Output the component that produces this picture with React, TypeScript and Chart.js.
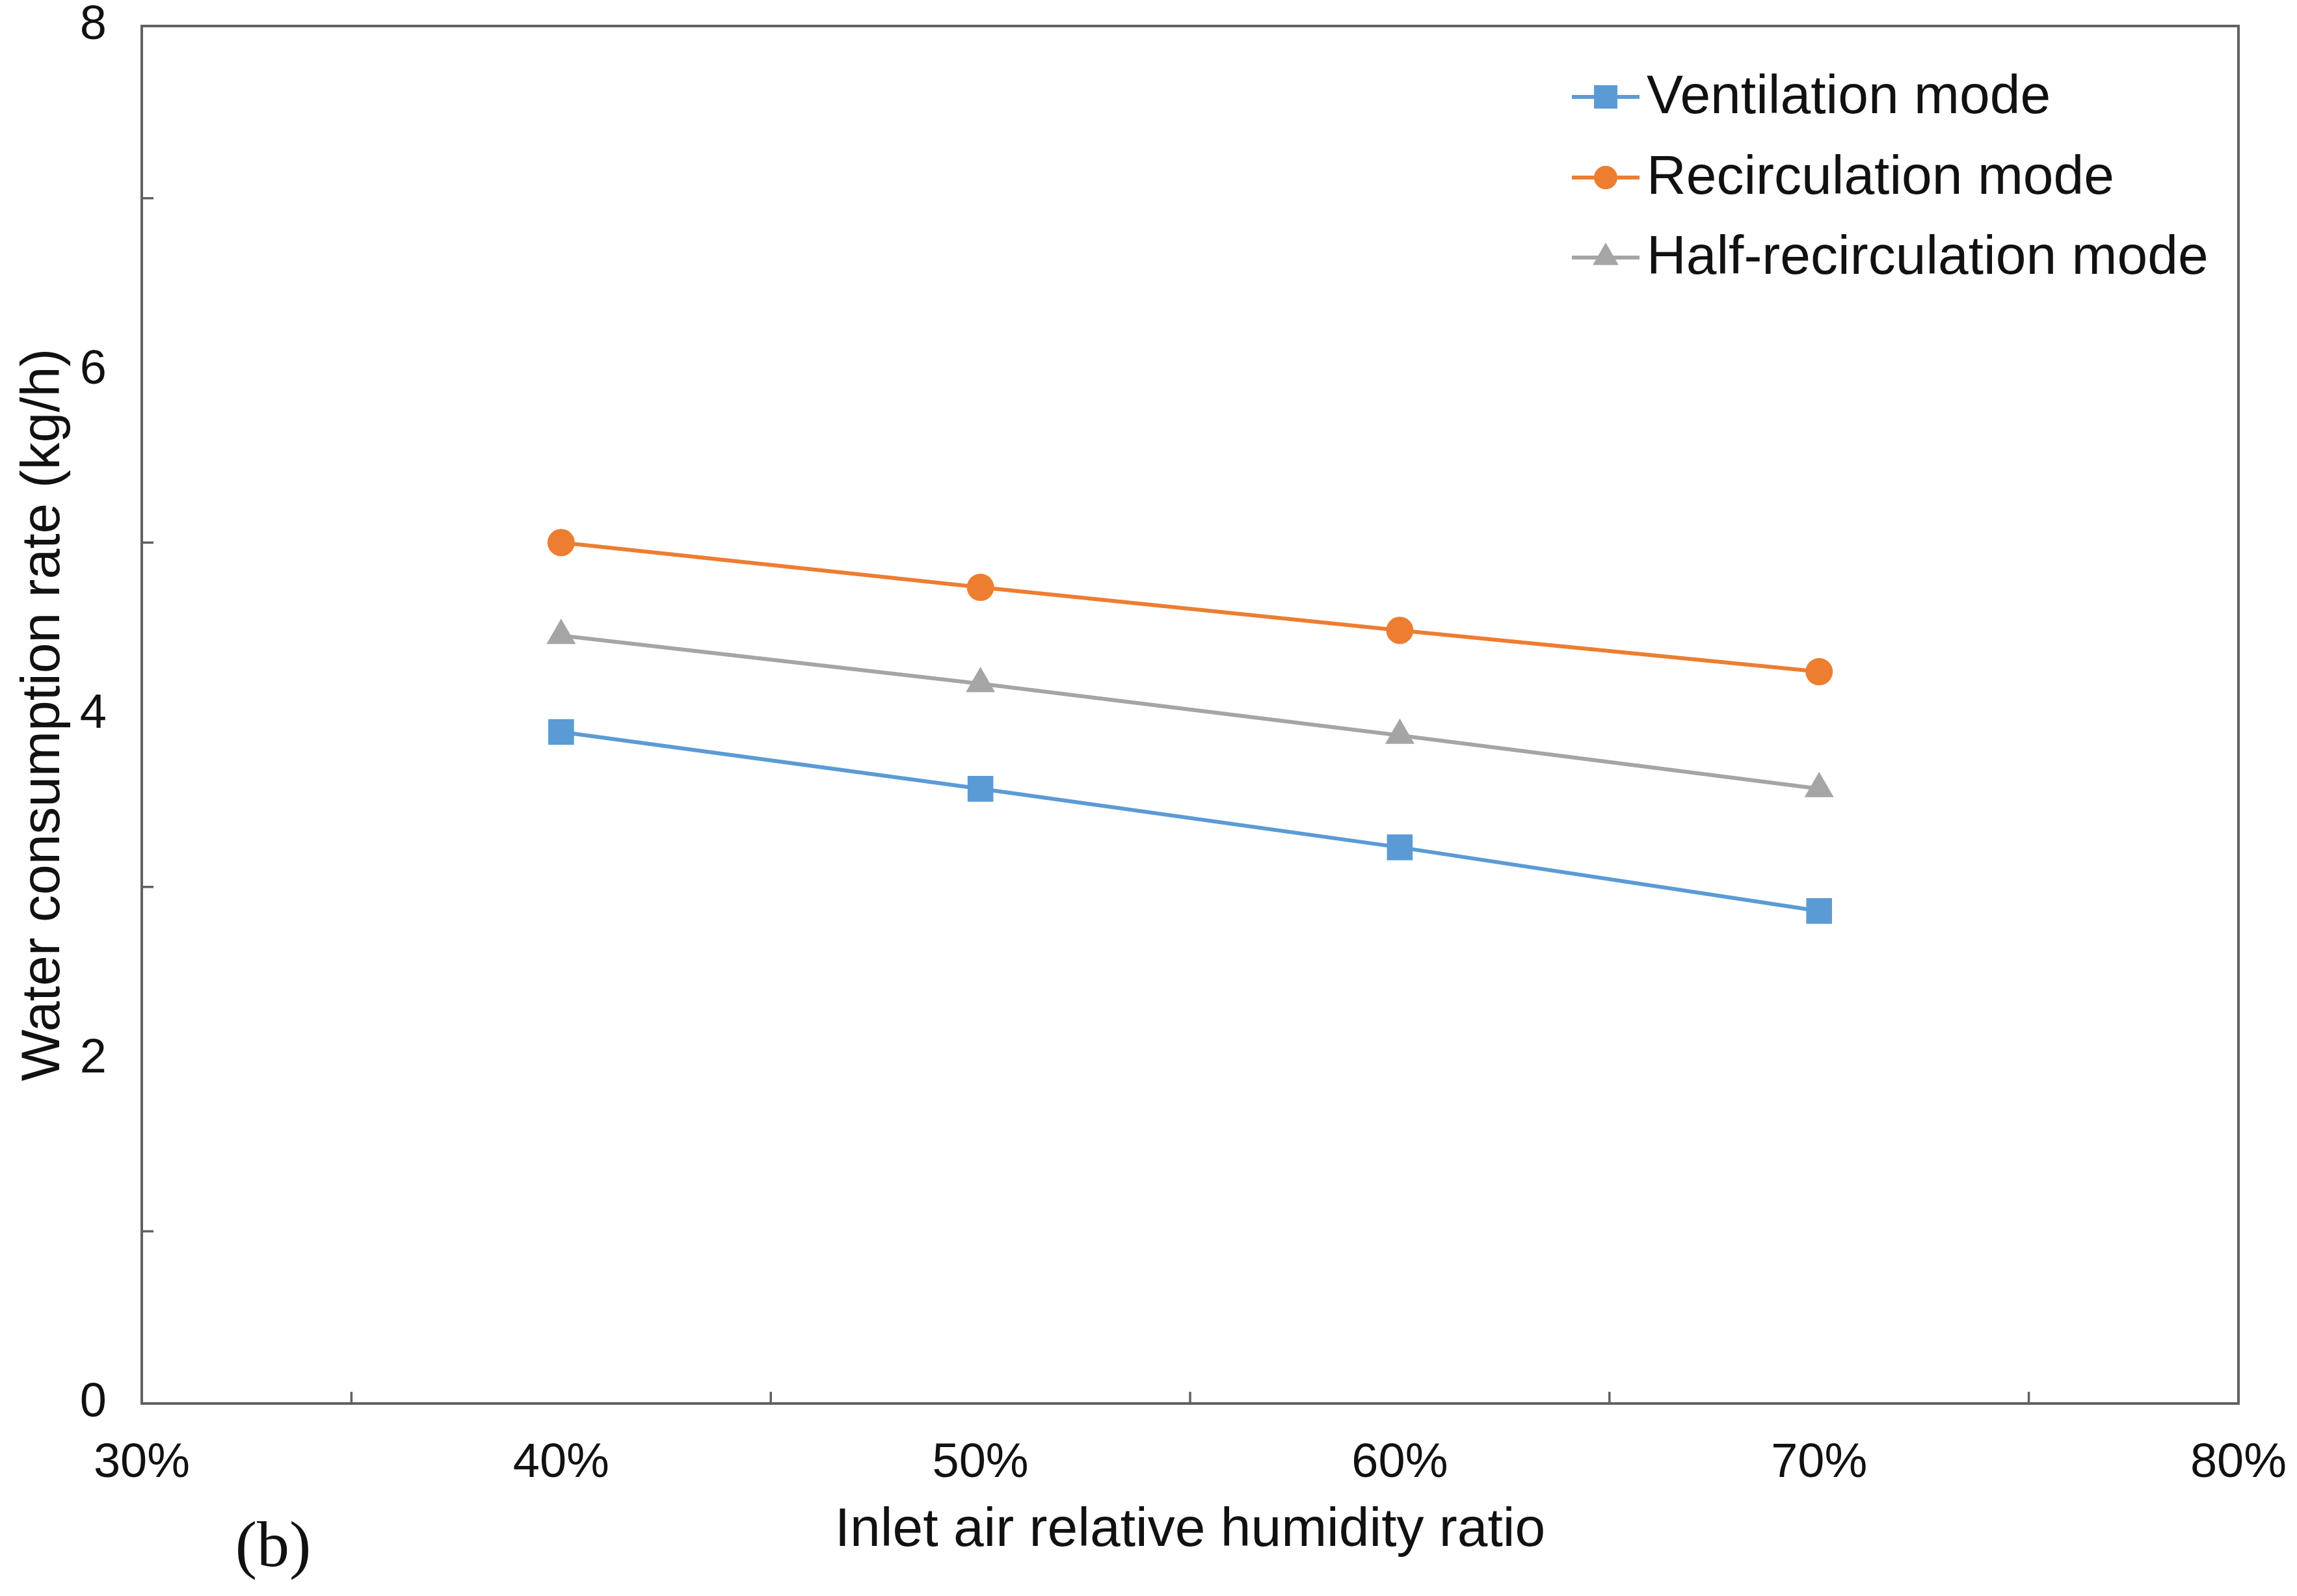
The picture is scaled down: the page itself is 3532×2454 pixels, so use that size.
import React, { useEffect, useRef } from "react";
import { Chart, registerables } from "chart.js";

Chart.register(...registerables);

// ---------- data ----------
const humidity = [40, 50, 60, 70];
const ventilation = [3.9, 3.57, 3.23, 2.86];
const recirculation = [5.0, 4.74, 4.49, 4.25];
const halfRecirculation = [4.46, 4.18, 3.88, 3.57];
const seriesNames = ["Ventilation mode", "Recirculation mode", "Half-recirculation mode"];
const xTickValues = [30, 40, 50, 60, 70, 80];
const yTickValues = [0, 2, 4, 6, 8];
const xMinorTicks = [35, 45, 55, 65, 75];
const yMinorTicks = [1, 3, 5, 7];
const xTitle = "Inlet air relative humidity ratio";
const yTitle = "Water consumption rate (kg/h)";
const panelLabel = "(b)";

// ---------- styles ----------
const W = 3532;
const H = 2454;
const COLORS = ["#5B9BD5", "#ED7D31", "#A5A5A5"];
const STYLES = ["rect", "circle", "triangle"];
const RADII = [28, 21, 26];
const AXIS_COLOR = "#616161";
const FONT = "'Liberation Sans', Arial, sans-serif";

const decorPlugin = {
  id: "decor",
  beforeDatasetsDraw(chart: any) {
    const { ctx, chartArea: a, scales } = chart;
    const xs = scales.x;
    const ys = scales.y;
    ctx.save();
    ctx.strokeStyle = AXIS_COLOR;
    ctx.lineWidth = 4;
    ctx.strokeRect(a.left, a.top, a.right - a.left, a.bottom - a.top);
    const TL = 18;
    ctx.beginPath();
    xMinorTicks.forEach((v) => {
      const px = xs.getPixelForValue(v);
      ctx.moveTo(px, a.bottom);
      ctx.lineTo(px, a.bottom - TL);
    });
    yMinorTicks.forEach((v) => {
      const py = ys.getPixelForValue(v);
      ctx.moveTo(a.left, py);
      ctx.lineTo(a.left + TL, py);
    });
    ctx.lineWidth = 3.5;
    ctx.stroke();
    ctx.restore();
  },
  afterDraw(chart: any) {
    const { ctx, chartArea: a } = chart;
    ctx.save();
    ctx.fillStyle = "#111";
    ctx.font = `84px ${FONT}`;
    ctx.textAlign = "center";
    ctx.textBaseline = "middle";
    // x title
    ctx.fillText(xTitle, (a.left + a.right) / 2, 2354);
    // y title
    ctx.save();
    ctx.translate(68, (a.top + a.bottom) / 2);
    ctx.rotate(-Math.PI / 2);
    ctx.fillText(yTitle, 0, 0);
    ctx.restore();
    // panel label
    ctx.font = `100px 'Liberation Serif', 'Times New Roman', serif`;
    ctx.fillText(panelLabel, 420, 2382);

    // legend
    const rows = [149, 273, 396];
    const lx0 = 2417;
    const lx1 = 2521;
    const mx = 2469;
    const tx = 2532;
    ctx.font = `84px ${FONT}`;
    ctx.textAlign = "left";
    ctx.textBaseline = "middle";
    chart.data.datasets.forEach((ds: any, i: number) => {
      const y = rows[i];
      ctx.strokeStyle = COLORS[i];
      ctx.lineWidth = 6;
      ctx.beginPath();
      ctx.moveTo(lx0, y);
      ctx.lineTo(lx1, y);
      ctx.stroke();
      ctx.fillStyle = COLORS[i];
      ctx.beginPath();
      if (STYLES[i] === "rect") {
        ctx.rect(mx - 18, y - 18, 36, 36);
      } else if (STYLES[i] === "circle") {
        ctx.arc(mx, y, 18, 0, Math.PI * 2);
      } else {
        const r = 23;
        ctx.moveTo(mx, y - r);
        ctx.lineTo(mx + r * 0.866, y + r * 0.5);
        ctx.lineTo(mx - r * 0.866, y + r * 0.5);
        ctx.closePath();
      }
      ctx.fill();
      ctx.fillStyle = "#111";
      ctx.fillText(ds.label, tx, y + 2);
    });
    ctx.restore();
  },
};

export default function App() {
  const ref = useRef<HTMLCanvasElement | null>(null);

  useEffect(() => {
    document.body.style.margin = "0";
    const canvas = ref.current;
    if (!canvas) return;
    const series = [ventilation, recirculation, halfRecirculation];
    const chart = new Chart(canvas, {
      type: "line",
      data: {
        datasets: series.map((vals, i) => ({
          label: seriesNames[i],
          data: humidity.map((x, j) => ({ x, y: vals[j] })),
          borderColor: COLORS[i],
          backgroundColor: COLORS[i],
          borderWidth: 6,
          pointStyle: STYLES[i] as any,
          pointRadius: RADII[i],
          pointBorderWidth: 0,
          pointBackgroundColor: COLORS[i],
          tension: 0,
          fill: false,
        })),
      },
      options: {
        animation: false,
        responsive: false,
        devicePixelRatio: 1,
        layout: { padding: { top: 40, right: 90, left: 0, bottom: 0 } },
        plugins: {
          legend: { display: false },
          tooltip: { enabled: false },
        },
        scales: {
          x: {
            type: "linear",
            min: 30,
            max: 80,
            afterBuildTicks: (s: any) => {
              s.ticks = xTickValues.map((v) => ({ value: v }));
            },
            afterFit: (s: any) => {
              s.height = H - 2158;
              s.paddingLeft = 0;
              s.paddingRight = 0;
            },
            ticks: {
              autoSkip: false,
              maxRotation: 0,
              minRotation: 0,
              padding: 48,
              color: "#111",
              font: { family: FONT, size: 74 },
              callback: (v: any) => `${v}%`,
            },
            grid: { display: false, drawTicks: false },
            border: { display: false },
          },
          y: {
            type: "linear",
            min: 0,
            max: 8,
            afterBuildTicks: (s: any) => {
              s.ticks = yTickValues.map((v) => ({ value: v }));
            },
            afterFit: (s: any) => {
              s.width = 218;
              s.paddingTop = 0;
              s.paddingBottom = 0;
            },
            ticks: {
              padding: 54,
              color: "#111",
              font: { family: FONT, size: 74 },
            },
            grid: { display: false, drawTicks: false },
            border: { display: false },
          },
        },
      },
      plugins: [decorPlugin],
    });
    return () => chart.destroy();
  }, []);

  return (
    <div style={{ position: "absolute", left: 0, top: 0, width: W, height: H, background: "#fff" }}>
      <canvas ref={ref} width={W} height={H} style={{ width: W, height: H, display: "block" }} />
    </div>
  );
}
